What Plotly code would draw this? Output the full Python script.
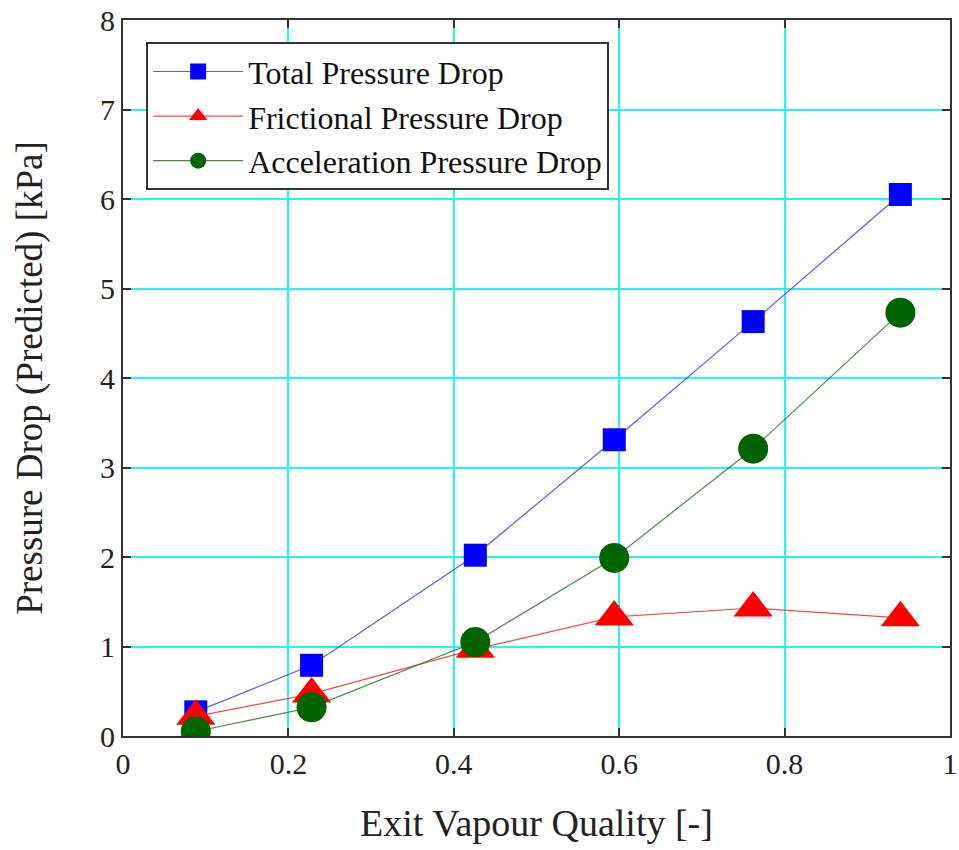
import plotly.graph_objects as go

quality = [0.088, 0.228, 0.426, 0.594, 0.762, 0.940]
total_dp = [0.27, 0.79, 2.02, 3.31, 4.63, 6.05]
frictional_dp = [0.22, 0.47, 0.97, 1.33, 1.43, 1.32]
acceleration_dp = [0.05, 0.32, 1.05, 1.99, 3.21, 4.73]

x_ticks = [0, 0.2, 0.4, 0.6, 0.8, 1]
x_tick_labels = ["0", "0.2", "0.4", "0.6", "0.8", "1"]
y_ticks = [0, 1, 2, 3, 4, 5, 6, 7, 8]

FONT = "Liberation Serif, Times New Roman, serif"

fig = go.Figure()
fig.add_trace(go.Scatter(
    x=quality, y=total_dp, name="Total Pressure Drop", mode="lines+markers",
    line=dict(color="rgba(70,70,255,0.9)", width=1.2),
    marker=dict(symbol="square", size=23, color="#0000ff")))
fig.add_trace(go.Scatter(
    x=quality, y=frictional_dp, name="Frictional Pressure Drop", mode="lines+markers",
    line=dict(color="rgba(255,50,50,0.9)", width=1.2),
    marker=dict(symbol="triangle-up", size=34, color="#ff0000")))
fig.add_trace(go.Scatter(
    x=quality, y=acceleration_dp, name="Acceleration Pressure Drop", mode="lines+markers",
    line=dict(color="rgba(50,130,50,0.9)", width=1.2),
    marker=dict(symbol="circle", size=30, color="#006400")))

axis_common = dict(
    showgrid=True, gridcolor="#22f5f5", gridwidth=2,
    showline=True, linecolor="#333333", linewidth=2, mirror="ticks",
    ticks="inside", ticklen=8, tickwidth=2, tickcolor="#333333",
    zeroline=False, automargin=False,
    tickfont=dict(family=FONT, size=30, color="#222222"),
)

fig.update_xaxes(range=[0, 1], tickvals=x_ticks, ticktext=x_tick_labels,
                 title=dict(text="Exit Vapour Quality [-]", font=dict(family=FONT, size=38, color="#222222"), standoff=30),
                 **axis_common)
fig.update_yaxes(range=[0, 8], tickvals=y_ticks,
                 title=dict(text="Pressure Drop (Predicted) [kPa]", font=dict(family=FONT, size=37, color="#222222"), standoff=46),
                 **axis_common)

fig.update_layout(
    width=959, height=850,
    margin=dict(l=123, r=9, t=20, b=114),
    plot_bgcolor="white", paper_bgcolor="white",
    legend=dict(x=0.028, y=0.969, xanchor="left", yanchor="top",
                bgcolor="white", bordercolor="#333333", borderwidth=2,
                font=dict(family=FONT, size=32, color="#111111"),
                itemwidth=90, tracegroupgap=0, itemsizing="trace"),
    showlegend=True,
)

fig.write_html("out.html")
